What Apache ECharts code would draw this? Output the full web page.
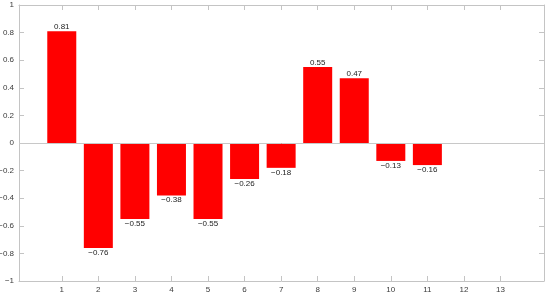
<!DOCTYPE html>
<html>
<head>
<meta charset="utf-8">
<script src="https://cdn.jsdelivr.net/npm/echarts@6/dist/echarts.min.js"></script>
<style>
	html, body { margin: 0; padding: 0; background: #fff; }
	#chart { width: 550px; height: 295px; }
</style>
</head>
<body>
<div id="chart"></div>
<script>
// bar positions and heights
const categories = [1, 2, 3, 4, 5, 6, 7, 8, 9, 10, 11, 12, 13];
const values = [0.81, -0.76, -0.55, -0.38, -0.55, -0.26, -0.18, 0.55, 0.47, -0.13, -0.16];

const minus = (s) => String(s).replace('-', '\u2212');
const axisColor = '#c4c4c4';
const textColor = '#3a3a3a';
const font = 'Liberation Sans, Arial, sans-serif';

const chart = echarts.init(document.getElementById('chart'));

const barData = values.map((v, i) => ({
	value: [categories[i], v],
	label: { position: v < 0 ? 'bottom' : 'top' },
}));

const xBase = {
	type: 'value',
	min: -0.17,
	max: 14.19,
	axisLine: { show: true, onZero: false, lineStyle: { color: axisColor, width: 1 } },
	axisTick: { show: true, inside: true, length: 5, customValues: categories, lineStyle: { color: axisColor } },
	splitLine: { show: false },
};

const yBase = {
	type: 'value',
	min: -1,
	max: 1,
	interval: 0.2,
	axisLine: { show: true, onZero: false, lineStyle: { color: axisColor, width: 1 } },
	axisTick: { show: true, inside: true, length: 5, lineStyle: { color: axisColor } },
	splitLine: { show: false },
};

const option = {
	animation: false,
	backgroundColor: '#fff',
	grid: { left: 19, right: 6, top: 5, bottom: 14, containLabel: false, outerBoundsMode: 'none' },
	xAxis: [
		{
			...xBase,
			position: 'bottom',
			axisLabel: {
				show: true,
				customValues: categories,
				margin: 5,
				fontSize: 8,
				color: textColor,
				fontFamily: font,
			},
		},
		{ ...xBase, position: 'top', axisLabel: { show: false } },
	],
	yAxis: [
		{
			...yBase,
			position: 'left',
			axisLabel: {
				show: true,
				margin: 5,
				fontSize: 8,
				color: textColor,
				fontFamily: font,
				formatter: (v) => minus(Math.round(v * 10) / 10),
			},
		},
		{ ...yBase, position: 'right', axisLabel: { show: false } },
	],
	series: [
		{
			type: 'bar',
			xAxisIndex: 0,
			yAxisIndex: 0,
			data: barData,
			barWidth: 29,
			itemStyle: { color: '#ff0000' },
			label: {
				show: true,
				distance: 0,
				fontSize: 8,
				lineHeight: 9,
				color: '#222',
				fontFamily: font,
				formatter: (p) => minus(p.value[1].toFixed(2)),
			},
			markLine: {
				silent: true,
				symbol: 'none',
				label: { show: false },
				lineStyle: { color: '#c8c8c8', width: 1, type: 'solid' },
				data: [{ yAxis: 0 }],
			},
		},
	],
};

chart.setOption(option);
</script>
</body>
</html>
